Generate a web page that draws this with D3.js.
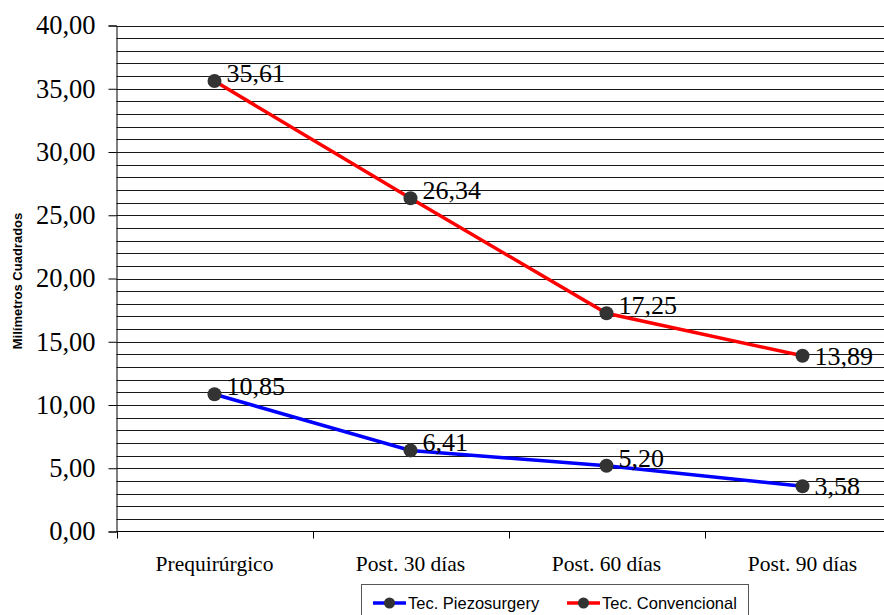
<!DOCTYPE html>
<html>
<head>
<meta charset="utf-8">
<script src="https://cdn.jsdelivr.net/npm/d3@7"></script>
<style>
  html, body { margin: 0; padding: 0; background: #fff; }
  svg { display: block; }
</style>
</head>
<body>
<svg id="chart" width="884" height="615"></svg>
<script>
// Area (mm²) over follow-up time for both surgical techniques
const categories = ["Prequirúrgico", "Post. 30 días", "Post. 60 días", "Post. 90 días"];
const piezoValues = [10.85, 6.41, 5.20, 3.58];
const convValues = [35.61, 26.34, 17.25, 13.89];
const seriesNames = ["Tec. Piezosurgery", "Tec. Convencional"];
const seriesColors = ["#0000ff", "#ff0000"];
const yTicks = [0, 5, 10, 15, 20, 25, 30, 35, 40];
const yTitle = "Milímetros Cuadrados";

const series = [
  { name: seriesNames[0], color: seriesColors[0], values: piezoValues },
  { name: seriesNames[1], color: seriesColors[1], values: convValues }
];

const svg = d3.select("#chart");
const plotLeft = 116.5, plotRight = 900.5, plotTop = 25.5, plotBottom = 531.5;
const serif = "'Liberation Serif', 'Times New Roman', serif";
const sans = "'Liberation Sans', Arial, sans-serif";

const xBand = d3.scaleBand().domain(categories).range([plotLeft, plotRight]).paddingInner(0).paddingOuter(0);
const xCenter = c => xBand(c) + xBand.bandwidth() / 2;
const y = d3.scaleLinear().domain([0, 40]).range([plotBottom, plotTop]);

const fmt = v => d3.format(".2f")(v).replace(".", ",");

// Minor gridlines every unit
svg.append("g")
  .selectAll("line")
  .data(d3.range(1, 41))
  .join("line")
  .attr("x1", plotLeft).attr("x2", plotRight)
  .attr("y1", d => Math.round(y(d)) + 0.5).attr("y2", d => Math.round(y(d)) + 0.5)
  .attr("stroke", "#1a1a1a").attr("stroke-width", 1);

// Y axis
const yAxis = svg.append("g")
  .attr("transform", `translate(${plotLeft},0)`)
  .call(d3.axisLeft(y).tickValues(yTicks).tickFormat(fmt).tickSize(8).tickPadding(13));
yAxis.select(".domain").attr("stroke", "#000");
yAxis.selectAll(".tick line").attr("stroke", "#000");
yAxis.selectAll("text")
  .attr("font-family", serif)
  .attr("font-size", 26.5).attr("fill", "#000");

// X axis with ticks on category boundaries
svg.append("line")
  .attr("x1", plotLeft).attr("x2", plotRight).attr("y1", plotBottom).attr("y2", plotBottom)
  .attr("stroke", "#000");
svg.append("g")
  .selectAll("line")
  .data(categories.map(c => xBand(c)).concat([plotRight]))
  .join("line")
  .attr("x1", d => Math.round(d) + 0.5).attr("x2", d => Math.round(d) + 0.5)
  .attr("y1", plotBottom).attr("y2", plotBottom + 7)
  .attr("stroke", "#000");
svg.append("g")
  .selectAll("text")
  .data(categories)
  .join("text")
  .attr("x", d => xCenter(d)).attr("y", plotBottom + 39)
  .attr("text-anchor", "middle")
  .attr("font-family", serif)
  .attr("font-size", 21.5).attr("fill", "#000")
  .text(d => d);

// Y axis title
svg.append("text")
  .attr("transform", `translate(22,281) rotate(-90)`)
  .attr("text-anchor", "middle")
  .attr("font-family", sans)
  .attr("font-weight", "bold")
  .attr("font-size", 13).attr("fill", "#000")
  .text(yTitle);

// Lines, markers and value labels
const line = d3.line().x((d, i) => xCenter(categories[i])).y(d => y(d));
series.forEach(s => {
  const g = svg.append("g");
  g.append("path")
    .datum(s.values)
    .attr("d", line)
    .attr("fill", "none")
    .attr("stroke", s.color)
    .attr("stroke-width", 3.5);
  g.selectAll("circle")
    .data(s.values)
    .join("circle")
    .attr("cx", (d, i) => xCenter(categories[i]))
    .attr("cy", d => y(d))
    .attr("r", 7)
    .attr("fill", "#333");
  g.selectAll("text")
    .data(s.values)
    .join("text")
    .attr("x", (d, i) => xCenter(categories[i]) + 12)
    .attr("y", (d, i) => y(d) + (i === s.values.length - 1 ? 9 : 1))
    .attr("font-family", serif)
    .attr("font-size", 26).attr("fill", "#000")
    .text(d => fmt(d));
});

// Legend
const legend = svg.append("g");
legend.append("rect")
  .attr("x", 361.5).attr("y", 584.5).attr("width", 387).attr("height", 40)
  .attr("fill", "#fff").attr("stroke", "#555");
const legendX = [373, 567];
series.forEach((s, i) => {
  const lg = legend.append("g").attr("transform", `translate(${legendX[i]},603)`);
  lg.append("line").attr("x1", 0).attr("x2", 33).attr("y1", 0).attr("y2", 0)
    .attr("stroke", s.color).attr("stroke-width", 3.5);
  lg.append("circle").attr("cx", 16.5).attr("cy", 0).attr("r", 5.5).attr("fill", "#333");
  lg.append("text").attr("x", 35).attr("y", 6)
    .attr("font-family", sans)
    .attr("font-size", 16.5).attr("fill", "#000")
    .text(s.name);
});
</script>
</body>
</html>
